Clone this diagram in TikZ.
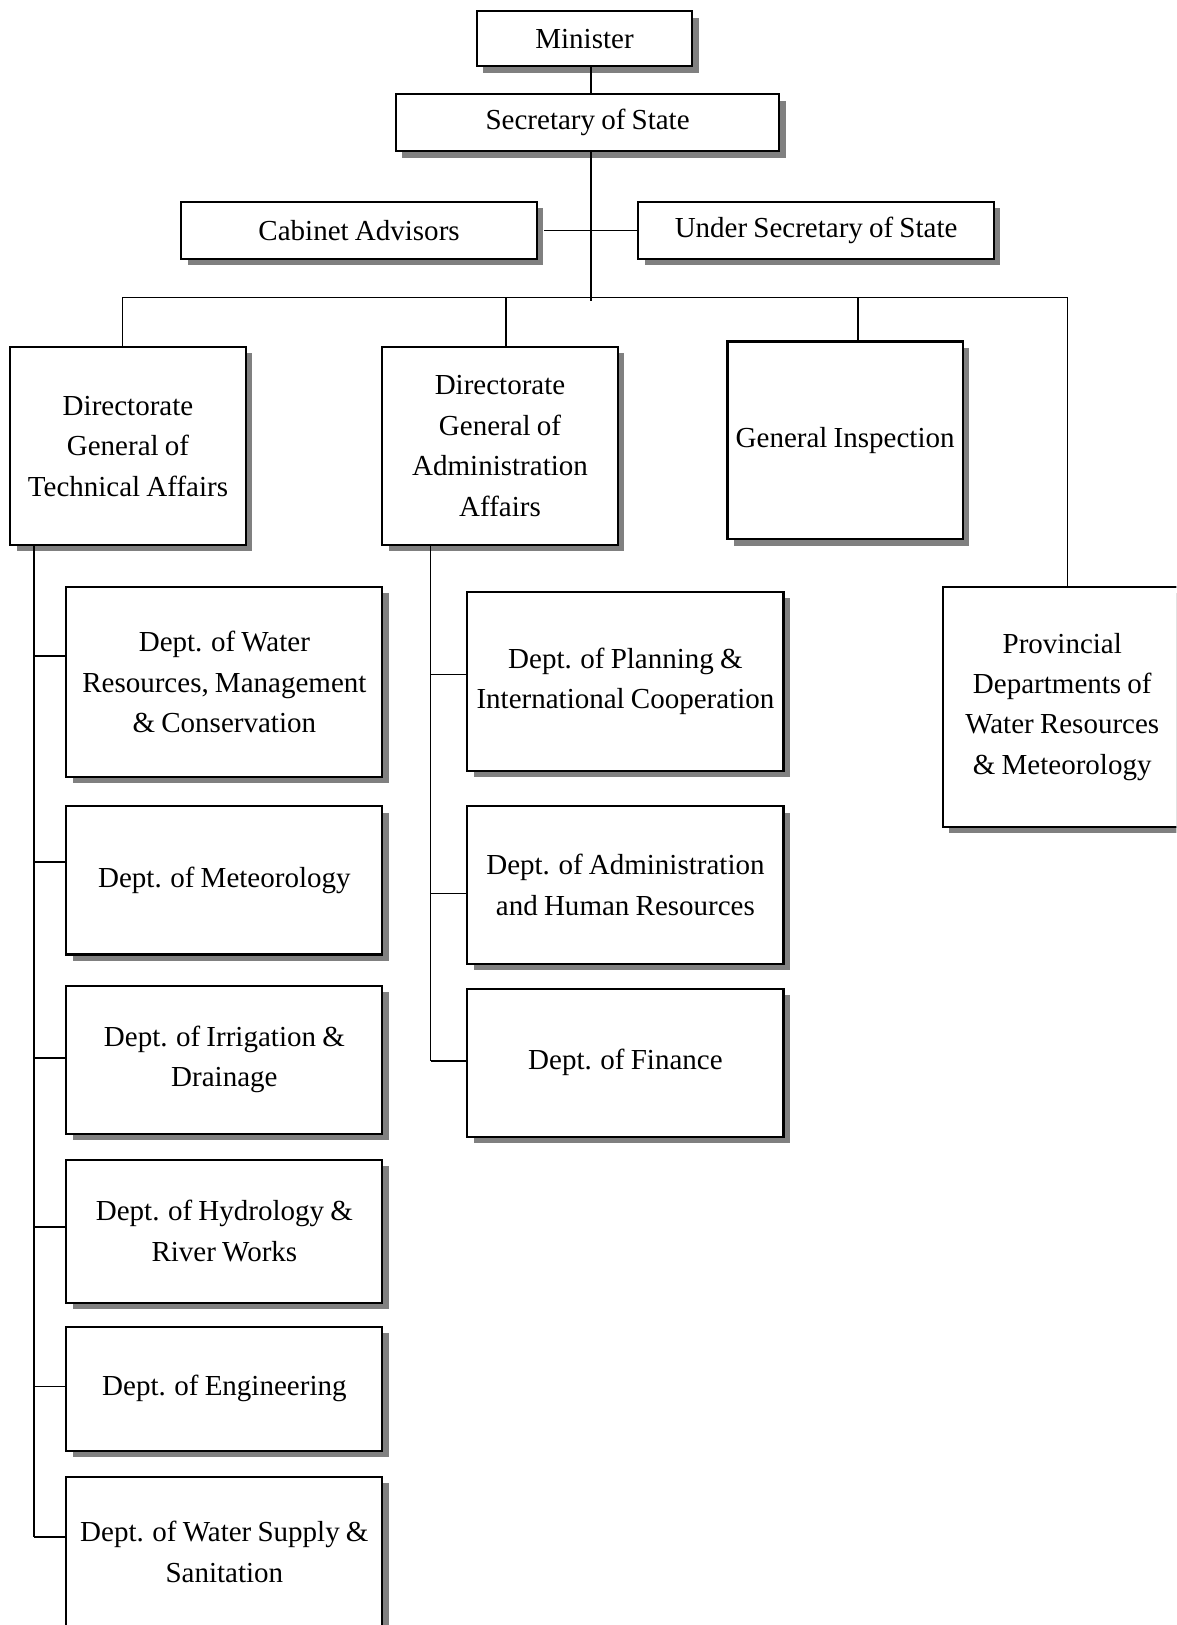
\documentclass[tikz,border=0pt]{standalone}
\usepackage{fontspec}
\setmainfont{Liberation Serif}[WordSpace=0.85]
\usetikzlibrary{
	positioning,
	shadows
}

\begin{document}
\begin{tikzpicture}[
	x=0.5pt, y=-0.5pt,
	font=\fontsize{14}{19.5}\selectfont,
	unit/.style={draw, line width=1pt, fill=white, align=center, inner sep=1pt,
		drop shadow={shadow xshift=3pt, shadow yshift=-3pt, fill=black!50, opacity=1}},
	top/.style={unit, minimum height=27.5pt},
	dir/.style={unit, minimum width=113.5pt, minimum height=95.5pt},
	dept/.style={unit, minimum width=152.5pt},
	link/.style={line width=0.75pt}
]
	\useasboundingbox (0,0) rectangle (1135,1568);
	\clip (0,0) rectangle (1135,1568);
	\draw
		node [top,minimum width=104pt,minimum height=26.5pt] (min)  at (564,37.5)    {Minister}
		node [top,minimum width=185pt]                      (sec)  at (567,118.5)   {Secretary of State}
		node [top,minimum width=171.5pt]                    (cab)  at (346.5,222.5) {Cabinet Advisors}
		node [top,minimum width=171.5pt]                    (usec) at (787.5,222.5) {Under Secretary of State}
		node [dir]                                          (dgt)  at (123.5,430.5) {Directorate\\General of\\Technical Affairs}
		node [dir]                                          (dga)  at (482.5,430.5) {Directorate\\General of\\Administration\\Affairs}
		node [dir]                                          (gi)   at (815.5,425)   {General Inspection}
		node [unit,minimum width=115pt,minimum height=116pt] (prov) at (1025,682)   {Provincial\\Departments of\\Water Resources\\\& Meteorology}
		% technical departments
		node [dept,minimum height=92pt]   (wr)  at (216.5,658)    {Dept. of Water\\Resources, Management\\\& Conservation}
		node [dept,minimum height=71.5pt] (met) at (216.5,849.5)  {Dept. of Meteorology}
		node [dept,minimum height=71.5pt] (irr) at (216.5,1022.5) {Dept. of Irrigation \&\\Drainage}
		node [dept,minimum height=69pt]   (hyd) at (216.5,1188)   {Dept. of Hydrology \&\\River Works}
		node [dept,minimum height=60pt]   (eng) at (216.5,1340)   {Dept. of Engineering}
		node [dept,minimum height=72.5pt] (ws)  at (216.5,1497.5) {Dept. of Water Supply \&\\Sanitation}
		% administration departments
		node [dept,minimum height=86.5pt] (plan) at (603.5,657.5)  {Dept. of Planning \&\\International Cooperation}
		node [dept,minimum height=76pt]   (hr)   at (603.5,854)    {Dept. of Administration\\and Human Resources}
		node [dept,minimum height=71.5pt] (fin)  at (603.5,1025.5) {Dept. of Finance}
	;
	\coordinate (bus)    at (570,287);
	\coordinate (spineL) at (33,0);
	\coordinate (spineM) at (415.5,0);
	\draw[link] (min.south -| bus) -- (sec.north -| bus);
	\draw[link] (sec.south -| bus) -- ([yshift=-1.5pt]bus);
	\draw[link] ([xshift=3pt]cab.east) -- (usec.west);
	\foreach \n/\s in {dgt/-2.75,dga/2.75,gi/6.25,prov/2.5}{
		\coordinate (t\n) at ([xshift=\s pt]\n.north);
		\draw[link] (t\n) -- (t\n |- bus);
	}
	\draw[link] (tdgt |- bus) -- (tprov |- bus);
	\foreach \n/\s in {wr/12.5,met/8.75,irr/0.75,hyd/2,eng/1,ws/7.25}{
		\coordinate (c\n) at ([yshift=\s pt]\n.west);
		\draw[link] (c\n) -- (c\n -| spineL);
	}
	\draw[link] ([yshift=1pt]dgt.south -| spineL) -- (cws -| spineL);
	\foreach \n/\s in {plan/3.25,hr/-4,fin/0.75}{
		\coordinate (c\n) at ([yshift=\s pt]\n.west);
		\draw[link] (c\n) -- (c\n -| spineM);
	}
	\draw[link] ([yshift=1pt]dga.south -| spineM) -- (cfin -| spineM);
\end{tikzpicture}
\end{document}
